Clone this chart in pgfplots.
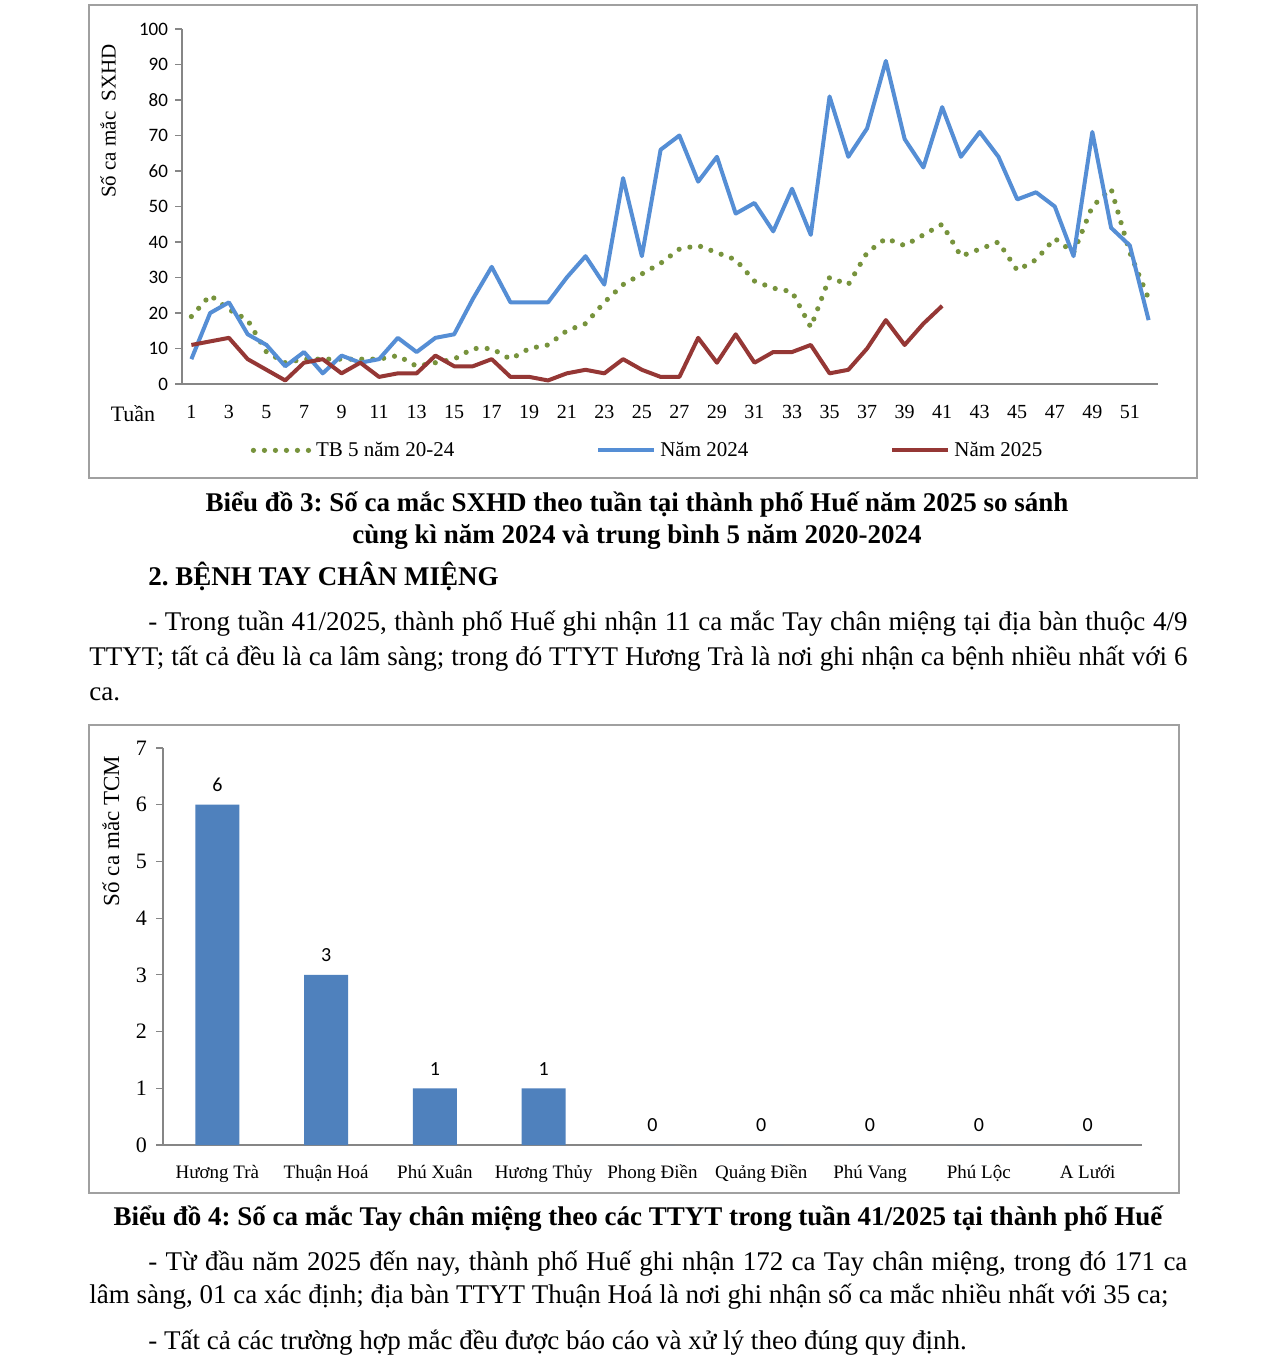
\documentclass[border=0pt]{standalone}
\usepackage{fontspec}
\setmainfont{Liberation Serif}
\newfontfamily\calib{Carlito}
\usepackage{pgfplots}
\pgfplotsset{compat=1.18}
\usepackage{pgfplotstable}

\definecolor{gline}{HTML}{77933C}
\definecolor{bline}{HTML}{558ED5}
\definecolor{rline}{HTML}{953735}
\definecolor{barc}{HTML}{4F81BD}
\definecolor{axc}{HTML}{868686}
\definecolor{framec}{HTML}{A0A0A0}

% week, TB 5 nam 20-24, nam 2024, nam 2025
\pgfplotstableread{
w  tb  y24 y25
1  19  7   11
2  25  20  12
3  21  23  13
4  18  14  7
5  9   11  4
6  6   5   1
7  7   9   6
8  7   3   7
9  7   8   3
10 7   6   6
11 7   7   2
12 8   13  3
13 5   9   3
14 6   13  8
15 7   14  5
16 10  24  5
17 10  33  7
18 7   23  2
19 10  23  2
20 11  23  1
21 15  30  3
22 17  36  4
23 23  28  3
24 28  58  7
25 31  36  4
26 34  66  2
27 38  70  2
28 39  57  13
29 37  64  6
30 35  48  14
31 29  51  6
32 27  43  9
33 26  55  9
34 16  42  11
35 30  81  3
36 28  64  4
37 37  72  10
38 41  91  18
39 39  69  11
40 42  61  17
41 45  78  22
42 36  64  nan
43 38  71  nan
44 40  64  nan
45 32  52  nan
46 35  54  nan
47 41  50  nan
48 37  36  nan
49 50  71  nan
50 55  44  nan
51 37  39  nan
52 24  18  nan
}\sxhd

\pgfplotstableread{
x c
0 6
1 3
2 1
3 1
4 0
5 0
6 0
7 0
8 0
}\tcm

\begin{document}
\frenchspacing
\begin{tikzpicture}
\path[use as bounding box, fill=white] (0pt,0pt) rectangle (637.5pt,-681.5pt);

% ---- chart 3 ----
\draw[framec, line width=0.8pt] (44.5pt,-2.5pt) rectangle (598.5pt,-239pt);
\begin{axis}[
  at={(91pt,-192pt)}, anchor=south west,
  scale only axis, width=488pt, height=177.5pt,
  xmin=0.5, xmax=52.5, ymin=0, ymax=100,
  axis lines*=left,
  axis line style={axc, line width=0.8pt},
  xtick={1,3,...,51},
  minor xtick={0.5,1.5,...,52.5},
  ytick={0,10,...,100},
  tick align=outside,
  major tick length=3.5pt, minor tick length=3.5pt,
  x tick style={draw=none},
  minor x tick style={axc, line width=0.6pt},
  y tick style={axc, line width=0.6pt},
  /pgf/number format/assume math mode=true,
  xticklabel style={font=\fontsize{10}{11}\selectfont, yshift=-3.5pt},
  yticklabel style={font=\calib\fontsize{9.5}{10}\selectfont},
  ylabel={Số ca mắc\ \ SXHD},
  ylabel style={at={(axis description cs:-0.0758,0.741)}, anchor=center, rotate=0, font=\fontsize{10.5}{12}\selectfont},
  legend columns=3,
  legend style={at={(axis description cs:0.064,-0.187)}, anchor=west, draw=none,
    font=\fontsize{10.5}{12}\selectfont,
    /tikz/every even column/.append style={column sep=69pt}},
  legend image code/.code={\draw[#1] (0pt,0pt) -- (28pt,0pt);},
  clip=false,
]
\addplot[gline, line width=2.6pt, line cap=round, dash pattern=on 0pt off 5.5pt] table[x=w, y=tb] {\sxhd};
\addlegendentry{TB 5 năm 20-24}
\addplot[bline, line width=2pt, line join=round] table[x=w, y=y24] {\sxhd};
\addlegendentry{Năm 2024}
\addplot[rline, line width=2pt, line join=round] table[x=w, y=y25] {\sxhd};
\addlegendentry{Năm 2025}
\end{axis}
\node[font=\fontsize{11}{12}\selectfont] at (66.5pt,-207pt) {Tuần};

% ---- text block 1 ----
\node[anchor=base, font=\bfseries\fontsize{13.5}{15}\selectfont] at (318.5pt,-255.5pt) {Biểu đồ 3: Số ca mắc SXHD theo tuần tại thành phố Huế năm 2025 so sánh};
\node[anchor=base, font=\bfseries\fontsize{13.5}{15}\selectfont] at (318.5pt,-271.5pt) {cùng kì năm 2024 và trung bình 5 năm 2020-2024};
\node[anchor=base west, inner sep=0pt, font=\bfseries\fontsize{13.5}{15}\selectfont] at (74pt,-292.5pt) {2. BỆNH TAY CHÂN MIỆNG};
\node[anchor=base west, inner sep=0pt, font=\fontsize{13.5}{15}\selectfont] at (74pt,-315pt) {\makebox[519.5pt][s]{- Trong tuần 41/2025, thành phố Huế ghi nhận 11 ca mắc Tay chân miệng tại địa bàn thuộc 4/9}};
\node[anchor=base west, inner sep=0pt, font=\fontsize{13.5}{15}\selectfont] at (44.5pt,-332.5pt) {\makebox[549pt][s]{TTYT; tất cả đều là ca lâm sàng; trong đó TTYT Hương Trà là nơi ghi nhận ca bệnh nhiều nhất với 6}};
\node[anchor=base west, inner sep=0pt, font=\fontsize{13.5}{15}\selectfont] at (44.5pt,-350pt) {ca.};

% ---- chart 4 ----
\draw[framec, line width=0.8pt] (44.5pt,-362.5pt) rectangle (589.5pt,-596.5pt);
\begin{axis}[
  at={(81.5pt,-572.5pt)}, anchor=south west,
  scale only axis, width=489.5pt, height=198.5pt,
  xmin=-0.5, xmax=8.5, ymin=0, ymax=7,
  axis lines*=left,
  axis line style={axc, line width=0.8pt},
  xtick={0,...,8},
  xticklabels={Hương Trà, Thuận Hoá, Phú Xuân, Hương Thủy, Phong Điền, Quảng Điền, Phú Vang, Phú Lộc, A Lưới},
  minor xtick={-0.5,0.5,...,8.5},
  ytick={0,...,7},
  tick align=outside,
  major tick length=3.5pt, minor tick length=3.5pt,
  x tick style={draw=none},
  minor x tick style={axc, line width=0.6pt},
  y tick style={axc, line width=0.6pt},
  /pgf/number format/assume math mode=true,
  xticklabel style={font=\fontsize{9.5}{10}\selectfont, yshift=-3pt},
  yticklabel style={font=\fontsize{11}{12}\selectfont, xshift=-1pt},
  ylabel={Số ca mắc TCM},
  ylabel style={at={(axis description cs:-0.0531,0.791)}, anchor=center, rotate=0, font=\fontsize{11.5}{13}\selectfont},
  ybar, bar width=22pt,
  nodes near coords,
  every node near coord/.append style={font=\calib\fontsize{10}{11}\selectfont, yshift=3pt},
  clip=false,
]
\addplot[fill=barc, draw=none] table[x=x, y=c] {\tcm};
\end{axis}

% ---- text block 2 ----
\node[anchor=base, font=\bfseries\fontsize{13.5}{15}\selectfont] at (319pt,-612.5pt) {Biểu đồ 4: Số ca mắc Tay chân miệng theo các TTYT trong tuần 41/2025 tại thành phố Huế};
\node[anchor=base west, inner sep=0pt, font=\fontsize{13.5}{15}\selectfont] at (74pt,-635pt) {\makebox[519.5pt][s]{- Từ đầu năm 2025 đến nay, thành phố Huế ghi nhận 172 ca Tay chân miệng, trong đó 171 ca}};
\node[anchor=base west, inner sep=0pt, font=\fontsize{13.5}{15}\selectfont] at (44.5pt,-651.5pt) {lâm sàng, 01 ca xác định; địa bàn TTYT Thuận Hoá là nơi ghi nhận số ca mắc nhiều nhất với 35 ca;};
\node[anchor=base west, inner sep=0pt, font=\fontsize{13.5}{15}\selectfont] at (74pt,-674.5pt) {- Tất cả các trường hợp mắc đều được báo cáo và xử lý theo đúng quy định.};
\end{tikzpicture}
\end{document}
